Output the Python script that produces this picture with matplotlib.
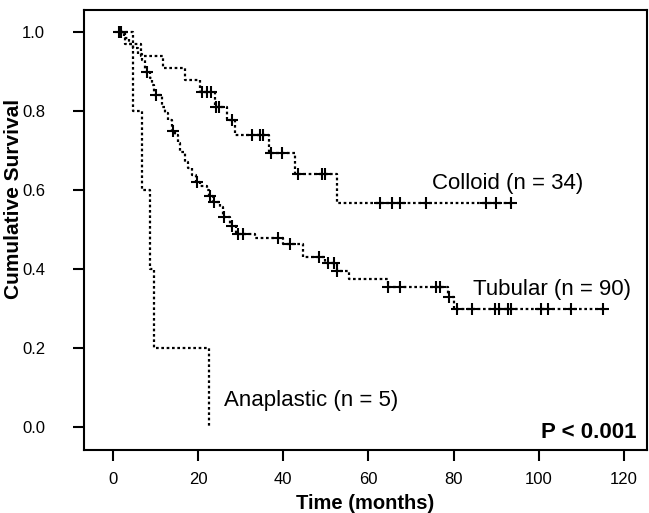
import numpy as np
import matplotlib
matplotlib.use("Agg")
import matplotlib.pyplot as plt

plt.rcParams['font.family'] = ['Liberation Sans', 'DejaVu Sans']

# Kaplan-Meier curves: step times (months) and survival after each step
colloid_t = [1.6, 2.8, 6.5, 11.8, 16.9, 20.5, 24.0, 26.8, 28.7, 36.7, 42.8, 52.7]
colloid_s = [1.0, 0.97, 0.94, 0.91, 0.88, 0.848, 0.81, 0.777, 0.739, 0.694, 0.64, 0.567]
colloid_cens = [1.8, 21.0, 22.0, 23.0, 24.2, 25.0, 28.0, 32.7, 34.6, 35.2, 37.0, 39.8,
                43.5, 49.0, 49.9, 62.8, 65.6, 67.5, 73.6, 87.5, 89.9, 93.4]

tubular_t = [1.6, 2.5, 3.8, 4.8, 6.0, 6.8, 7.5, 8.7, 9.2, 9.7, 11.5, 12.2, 12.9, 13.8, 14.6,
             15.3, 15.8, 16.9, 17.6, 18.6, 19.5, 20.5, 22.1, 22.5, 23.5, 25.2, 25.8,
             27.5, 29.0, 33.4, 40.0, 44.7, 49.9, 52.5, 55.5, 64.5, 78.6, 80.2]
tubular_s = [1.0, 0.985, 0.97, 0.96, 0.945, 0.93, 0.90, 0.884, 0.866, 0.84, 0.81, 0.795, 0.777,
             0.75, 0.74, 0.72, 0.696, 0.67, 0.656, 0.638, 0.62, 0.61, 0.60, 0.585, 0.57,
             0.557, 0.532, 0.51, 0.49, 0.478, 0.463, 0.43, 0.415, 0.395, 0.375, 0.354,
             0.33, 0.30]
tubular_cens = [1.5, 8.0, 10.0, 14.0, 19.8, 22.8, 23.8, 26.0, 28.0, 29.4, 30.6, 38.8,
                41.6, 48.5, 50.6, 52.0, 52.7, 64.7, 67.5, 75.8, 76.7, 79.0, 80.7, 84.2,
                89.6, 90.6, 92.7, 93.4, 100.5, 102.1, 107.5, 115.1]

anaplastic_t = [1.6, 4.7, 6.8, 8.7, 9.6, 22.6]
anaplastic_s = [1.0, 0.8, 0.6, 0.4, 0.2, 0.0]

labels = ["Colloid (n = 34)", "Tubular (n = 90)", "Anaplastic (n = 5)"]
x_ticks = [0, 20, 40, 60, 80, 100, 120]
y_ticks = [0.0, 0.2, 0.4, 0.6, 0.8, 1.0]


def km_curve(ax, t, s, cens):
    t = list(t)
    s = list(s)
    if cens and max(cens) > t[-1]:
        t.append(max(cens))
        s.append(s[-1])
    ax.step(t, s, where='post', color='black', linestyle=(0, (1.2, 1.2)), linewidth=1.6)
    if cens:
        idx = np.searchsorted(t, cens, side='right') - 1
        ys = np.array(s)[np.clip(idx, 0, len(s) - 1)]
        ax.plot(cens, ys, linestyle='none', marker='+', color='black',
                markersize=8, markeredgewidth=1.5)


fig = plt.figure(figsize=(6.49, 5.13), dpi=100)
ax = fig.add_axes([0.1294, 0.1228, 0.8675, 0.8577])

km_curve(ax, colloid_t, colloid_s, colloid_cens)
km_curve(ax, tubular_t, tubular_s, tubular_cens)
km_curve(ax, anaplastic_t, anaplastic_s, [])

ax.set_xlim(-6.8, 125.4)
ax.set_ylim(-0.058, 1.056)
ax.set_xticks(x_ticks)
ax.set_yticks(y_ticks)
ax.set_yticklabels([f"{v:.1f}" for v in y_ticks])
ax.tick_params(direction='out', length=8, width=1.5, labelsize=12)
ax.tick_params(axis='y', pad=20)
ax.tick_params(axis='x', pad=8)
for sp in ax.spines.values():
    sp.set_linewidth(1.5)

ax.set_xlabel("Time (months)", fontsize=14.5, fontweight='bold', labelpad=5)
ax.set_ylabel("Cumulative Survival", fontsize=15, fontweight='bold')
ax.yaxis.set_label_coords(-0.108, 0.57)

ax.text(75, 0.618, labels[0], fontsize=16, va='center', ha='left')
ax.text(84.5, 0.349, labels[1], fontsize=16, va='center', ha='left')
ax.text(26.1, 0.068, labels[2], fontsize=16, va='center', ha='left')
ax.text(123, -0.013, "P < 0.001", fontsize=16, fontweight='bold', va='center', ha='right')

fig.savefig("out.png", dpi=100)
